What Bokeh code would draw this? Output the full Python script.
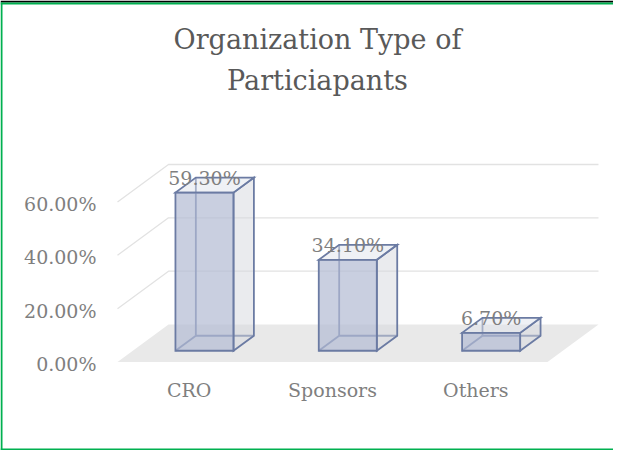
from bokeh.plotting import figure
from bokeh.models import Range1d
from bokeh.embed import file_html
from bokeh.resources import INLINE
from bokeh.core.properties import value

# ---------------- data ----------------
title_lines = ["Organization Type of", "Particiapants"]
categories = ["CRO", "Sponsors", "Others"]
shares = [59.30, 34.10, 6.70]
share_labels = ["59.30%", "34.10%", "6.70%"]
tick_values = [0, 20, 40, 60]
tick_labels = ["0.00%", "20.00%", "40.00%", "60.00%"]

# ---------------- layout (page pixels) ----------------
W, H = 613, 450
OFF = 8
X0 = 125.0      # page x where the category axis starts (front edge of floor)
SX = 143.33     # pixels per category
Y0 = 369.5      # page y of 0 % on the front plane
SY = 2.6667     # pixels per percent
DEPTH_X_PX, DEPTH_Y_PX = 51.0, 37.5   # oblique offset of the full depth
DX = DEPTH_X_PX / SX
DV = DEPTH_Y_PX / SY
Z_FRONT, Z_BACK = 0.3, 0.7
HALF_W = 0.2025

FONT = value("DejaVu Serif")
EDGE = "#6b7ba3"


def fx(px):
    return (px - X0) / SX


def fy(py):
    return (Y0 - py) / SY


def proj(x, v, z):
    return x + z * DX, v + z * DV


p = figure(width=W, height=H,
           x_range=Range1d(fx(OFF), fx(OFF + W)),
           y_range=Range1d(fy(OFF + H), fy(OFF)),
           x_axis_type=None, y_axis_type=None,
           toolbar_location=None, output_backend="svg", min_border=0)
p.outline_line_color = None
p.background_fill_color = "white"
p.border_fill_color = "white"

n = len(categories)

# ---------------- walls gridlines ----------------
gx, gy = [], []
for v in tick_values[1:]:
    a = proj(0, v, 0)
    b = proj(0, v, 1)
    c = proj(n, v, 1)
    gx.append([a[0], b[0], c[0]])
    gy.append([a[1], b[1], c[1]])
p.multi_line(gx, gy, line_color="#e2e2e2", line_width=1.3)

# ---------------- floor ----------------
floor = [proj(0, 0, 0), proj(n, 0, 0), proj(n, 0, 1), proj(0, 0, 1)]
p.patch([q[0] for q in floor], [q[1] for q in floor],
        fill_color="#e9e9e9", line_color=None)

# ---------------- bars ----------------
hid_x, hid_y = [], []
right_x, right_y, top_x, top_y, front_x, front_y = [], [], [], [], [], []
for i, val in enumerate(shares):
    cx = i + 0.5
    xl, xr = cx - HALF_W, cx + HALF_W
    FL0, FR0 = proj(xl, 0, Z_FRONT), proj(xr, 0, Z_FRONT)
    FL1, FR1 = proj(xl, val, Z_FRONT), proj(xr, val, Z_FRONT)
    BL0, BR0 = proj(xl, 0, Z_BACK), proj(xr, 0, Z_BACK)
    BL1, BR1 = proj(xl, val, Z_BACK), proj(xr, val, Z_BACK)
    for a, b in [(BL0, BL1), (BL0, BR0), (FL0, BL0)]:
        hid_x.append([a[0], b[0]])
        hid_y.append([a[1], b[1]])
    for pts, xs, ys in [([FR0, BR0, BR1, FR1], right_x, right_y),
                        ([FL1, FR1, BR1, BL1], top_x, top_y),
                        ([FL0, FR0, FR1, FL1], front_x, front_y)]:
        xs.append([q[0] for q in pts])
        ys.append([q[1] for q in pts])

p.multi_line(hid_x, hid_y, line_color=EDGE, line_width=1.8)
p.patches(right_x, right_y, fill_color="#d5d7dd", fill_alpha=0.5,
          line_color=EDGE, line_width=1.8, line_join="miter")
p.patches(top_x, top_y, fill_color="#dfe3ec", fill_alpha=0.5,
          line_color=EDGE, line_width=1.8, line_join="miter")
p.patches(front_x, front_y, fill_color="#b2bad3", fill_alpha=0.7,
          line_color=EDGE, line_width=1.8, line_join="miter")

# ---------------- texts ----------------
p.text(x=[fx(325)] * 2, y=[fy(47), fy(88)], text=title_lines,
       text_font=FONT, text_font_size=value("27px"), text_color="#595959",
       text_align="center", text_baseline="alphabetic")

p.text(x=[fx(104)] * len(tick_values), y=tick_values, text=tick_labels,
       text_font=FONT, text_font_size=value("19px"), text_color="#7f7f7f",
       text_align="right", text_baseline="middle", y_offset=2)

p.text(x=[i + 0.5 for i in range(n)], y=[0] * n, text=categories,
       text_font=FONT, text_font_size=value("19px"), text_color="#7f7f7f",
       text_align="center", text_baseline="middle", y_offset=27.5)

p.text(x=[i + 0.5 + Z_FRONT * DX for i in range(n)],
       y=[v + Z_BACK * DV for v in shares], text=share_labels,
       text_font=FONT, text_font_size=value("19px"), text_color="#7f7f7f",
       text_align="center", text_baseline="alphabetic", y_offset=0)

# ---------------- frame decoration ----------------
p.line([fx(OFF), fx(OFF + W)], [fy(9), fy(9)], line_color="black", line_width=2)
p.line([fx(OFF), fx(OFF + W)], [fy(11), fy(11)], line_color="#00b050", line_width=2)
p.line([fx(OFF), fx(OFF + W)], [fy(457), fy(457)], line_color="#00b050", line_width=2)
p.line([fx(9), fx(9)], [fy(10), fy(458)], line_color="#00b050", line_width=2)

open("out.html", "w").write(file_html(p, INLINE))
